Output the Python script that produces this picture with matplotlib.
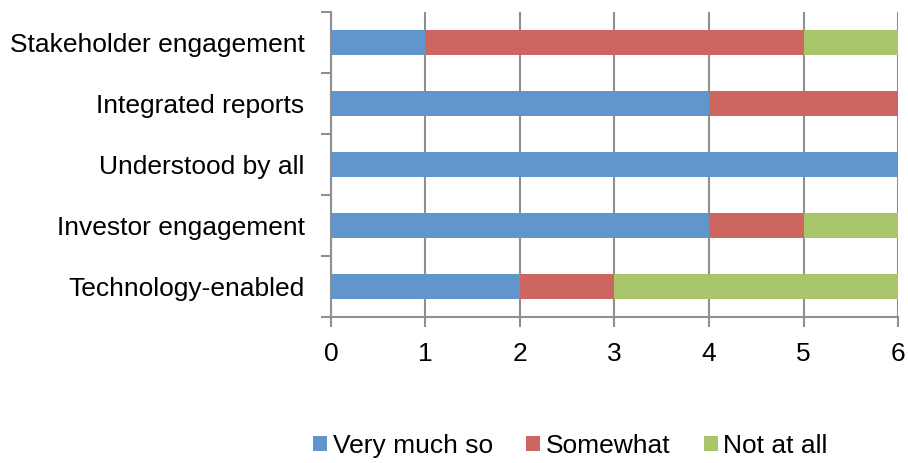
import numpy as np
import matplotlib.pyplot as plt
from matplotlib.ticker import FixedLocator

plt.rcParams["font.family"] = ["Liberation Sans", "DejaVu Sans"]

categories = ["Technology-enabled", "Investor engagement", "Understood by all",
              "Integrated reports", "Stakeholder engagement"]
very_much = [2, 4, 6, 4, 1]
somewhat = [1, 1, 0, 2, 4]
not_at_all = [3, 1, 0, 0, 1]
series_names = ["Very much so", "Somewhat", "Not at all"]
colors = ["#6096CB", "#CD6560", "#A8C56B"]

fig = plt.figure(figsize=(9.08, 4.63), dpi=100)
ax = fig.add_axes([0.3645, 0.3153, 0.6245, 0.6587])

y = np.arange(len(categories))
left = np.zeros(len(categories))
for vals, name, col in zip([very_much, somewhat, not_at_all], series_names, colors):
    ax.barh(y, vals, left=left, height=0.4, color=col, label=name, zorder=3)
    left += np.array(vals)

grid_col = "#8f8f8f"
ax.set_xlim(0, 6)
ax.set_ylim(-0.5, len(categories) - 0.5)
ax.set_xticks(range(7))
ax.xaxis.grid(True, color=grid_col, linewidth=1.5, zorder=0)
ax.set_yticks(y)
ax.set_yticklabels(categories)
ax.yaxis.set_minor_locator(FixedLocator(np.arange(-0.5, len(categories), 1)))
ax.tick_params(axis="y", which="major", length=0, pad=19, labelsize=19)
ax.tick_params(axis="y", which="minor", length=7, width=1.5, color=grid_col)
ax.tick_params(axis="x", length=7, width=1.5, color=grid_col, pad=11, labelsize=19)

for side in ["top", "right"]:
    ax.spines[side].set_visible(False)
for side in ["left", "bottom"]:
    ax.spines[side].set_color(grid_col)
    ax.spines[side].set_linewidth(1.5)

fig.legend(loc="center", bbox_to_anchor=(0.628, 0.037), ncol=3, frameon=False,
           fontsize=19, handlelength=0.53, handleheight=0.53, handletextpad=0.2,
           columnspacing=1.27)

fig.savefig("out.png", dpi=100)
